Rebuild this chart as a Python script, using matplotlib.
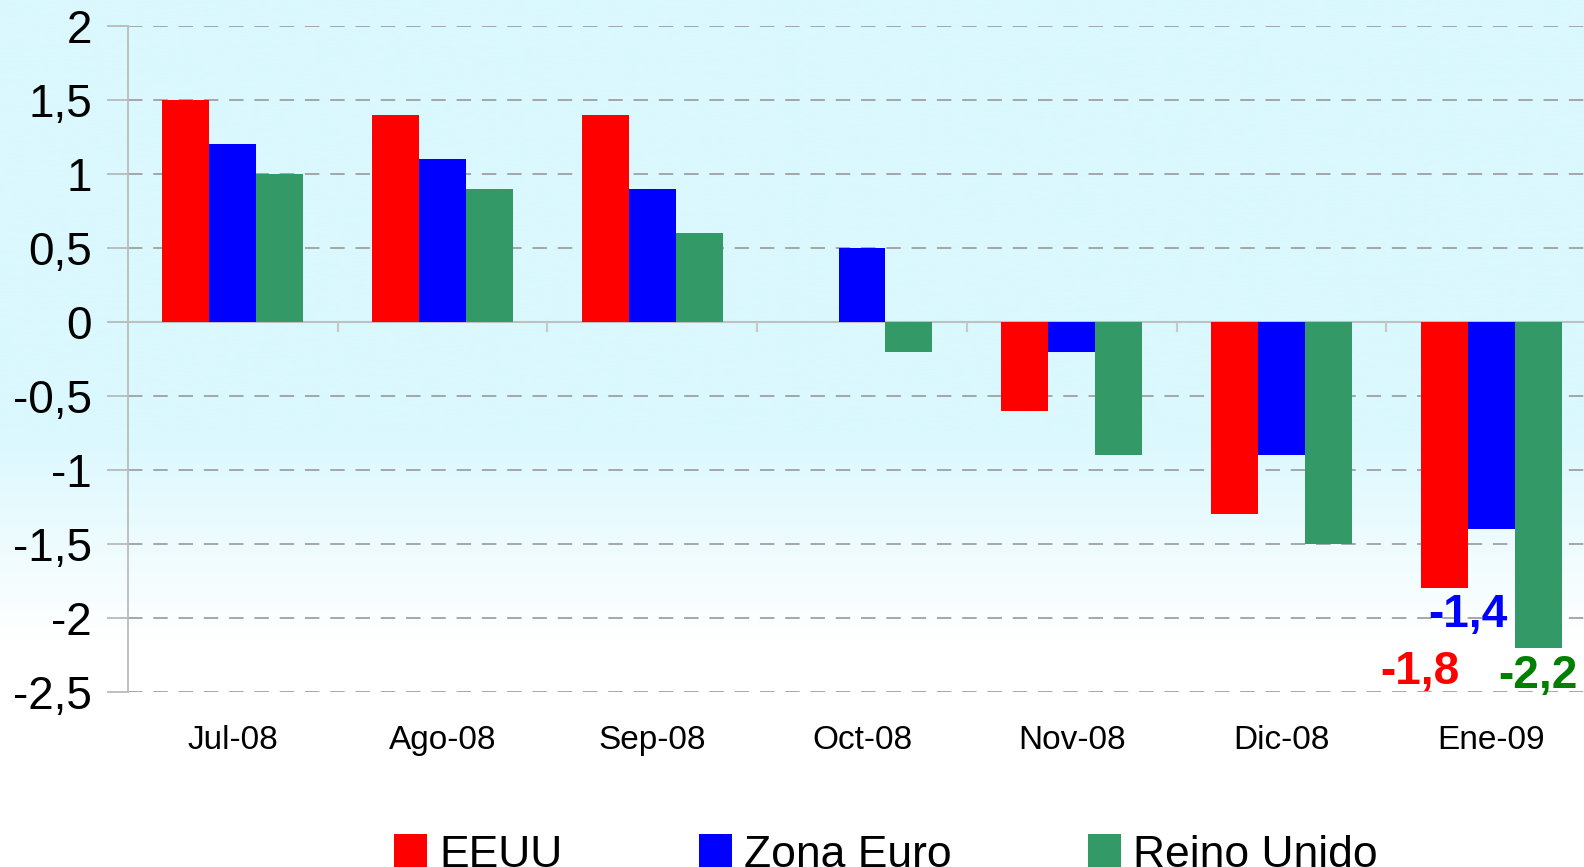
import numpy as np
import matplotlib
matplotlib.use("Agg")
import matplotlib.pyplot as plt
from matplotlib.colors import LinearSegmentedColormap

plt.rcParams['font.family'] = ['Liberation Sans', 'DejaVu Sans']

# ---------------------------------------------------------------------------
# Data
# ---------------------------------------------------------------------------
months = ["Jul-08", "Ago-08", "Sep-08", "Oct-08", "Nov-08", "Dic-08", "Ene-09"]
series = ["EEUU", "Zona Euro", "Reino Unido"]
eeuu = [1.5, 1.4, 1.4, 0.0, -0.6, -1.3, -1.8]
zona_euro = [1.2, 1.1, 0.9, 0.5, -0.2, -0.9, -1.4]
reino_unido = [1.0, 0.9, 0.6, -0.2, -0.9, -1.5, -2.2]
yticks = [-2.5, -2, -1.5, -1, -0.5, 0, 0.5, 1, 1.5, 2]

colors = ["#ff0000", "#0000ff", "#339966"]
label_colors = ["#ff0000", "#0000ff", "#008000"]

W, H, DPI = 1584, 867, 100
fig = plt.figure(figsize=(W / DPI, H / DPI), dpi=DPI)

# background gradient: light cyan on top fading to white
bg = fig.add_axes([0, 0, 1, 1], zorder=-10)
cyan = np.array([218, 248, 254]) / 255
cmap = LinearSegmentedColormap.from_list("bg", [(0.0, "white"), (0.26, "white"),
                                                (0.50, cyan), (1.0, cyan)])
grad = np.linspace(0, 1, 400).reshape(-1, 1)
bg.imshow(grad, aspect="auto", cmap=cmap, origin="lower", extent=[0, 1, 0, 1])
bg.axis("off")

ax = fig.add_axes([128 / W, 1 - 692 / H, (1596 - 128) / W, 666 / H])
ax.patch.set_alpha(0)

x = np.arange(len(months))
width = 0.224
values = [eeuu, zona_euro, reino_unido]
bars = []
for i, (name, vals) in enumerate(zip(series, values)):
    b = ax.bar(x + (i - 1) * width, vals, width=width, color=colors[i],
               label=name, zorder=3, linewidth=0)
    bars.append(b)

ax.set_xlim(-0.5, len(months) - 0.5)
ax.set_ylim(-2.5, 2)
ax.set_yticks(yticks)
ax.set_yticklabels([f"{v:g}".replace(".", ",") for v in yticks], fontsize=33)
ax.tick_params(axis="y", length=15, color="#b4b4b4", width=1.2, pad=11)
ax.yaxis.grid(True, linestyle=(0, (8, 6)), color="#a0a0a0", linewidth=1.3, zorder=1)

ax.set_xticks(x)
ax.set_xticklabels(months, fontsize=24)
ax.tick_params(axis="x", length=0, pad=24)

for s in ["top", "right", "bottom"]:
    ax.spines[s].set_visible(False)
ax.spines["left"].set_color("#bbbbbb")
ax.spines["left"].set_linewidth(1.3)

# zero line and category separators
ax.axhline(0, color="#c0c0c0", linewidth=1.5, zorder=2)
ax.vlines(x[:-1] + 0.5, -0.065, 0, color="#c8c8c8", linewidth=1.5, zorder=2)

# value labels for the last month
offsets = [(-24, -84), (-23, -86), (0, -28)]
last = len(months) - 1
for i, vals in enumerate(values):
    ax.annotate(f"{vals[last]:g}".replace(".", ","),
                xy=(last + (i - 1) * width, vals[last]),
                xytext=(offsets[i][0] * 0.72, offsets[i][1] * 0.72),
                textcoords="offset points", ha="center", va="center",
                fontsize=33, fontweight="bold", color=label_colors[i], zorder=4)

fig.legend(handles=bars, labels=series, loc="center", ncol=3,
           bbox_to_anchor=(886 / W, 1 - 855 / H), frameon=False,
           fontsize=32, handlelength=0.75, handleheight=0.78,
           handletextpad=0.28, columnspacing=3.05)

fig.savefig("out.png", dpi=DPI)
